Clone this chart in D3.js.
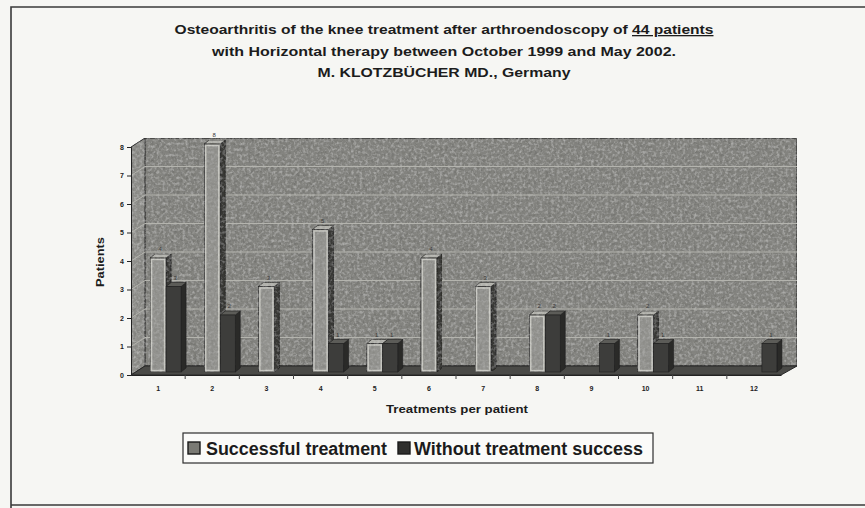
<!DOCTYPE html>
<html><head><meta charset="utf-8">
<script src="https://cdn.jsdelivr.net/npm/d3@7"></script>
<style>
html,body{margin:0;padding:0;background:#f6f6f3;}
svg{display:block;font-family:"Liberation Sans",Arial,sans-serif;}
</style></head>
<body>
<svg id="chart" width="865" height="508"></svg>
<script>
// ---- data ----
const categories = ["1","2","3","4","5","6","7","8","9","10","11","12"];
const successful = [4,8,3,5,1,4,3,2,0,2,0,0];
const withoutSuccess = [3,2,0,1,1,0,0,2,1,1,0,1];
const yTicks = [0,1,2,3,4,5,6,7,8];
const seriesNames = ["Successful treatment","Without treatment success"];
const titleLines = [
  ["Osteoarthritis of the knee treatment after arthroendoscopy of ", "44 patients"],
  ["with Horizontal therapy between October 1999 and May 2002.", ""],
  ["M. KLOTZBÜCHER MD., Germany", ""]
];
const xTitle = "Treatments per patient";
const yTitle = "Patients";

// ---- layout ----
const svg = d3.select("#chart");
const W = 865, H = 508;
const x = d3.scaleBand().domain(categories).range([131, 781]).padding(0);
const y = d3.scaleLinear().domain([0, 8]).range([375, 147]);
const depth = {dx: 14, dy: -9};      // wall depth
const barOff = {dx: 3, dy: -3};      // bar placement inside depth
const barD = {dx: 5, dy: -4};        // bar own depth

// subtle noise filter for photo grain
const defs = svg.append("defs");
function grain(id, freq, a){
  const f = defs.append("filter").attr("id",id).attr("x",0).attr("y",0).attr("width","100%").attr("height","100%");
  f.append("feTurbulence").attr("type","fractalNoise").attr("baseFrequency",freq).attr("numOctaves",2).attr("seed",3).attr("result","n");
  f.append("feColorMatrix").attr("in","n").attr("type","matrix")
   .attr("values",`0 0 0 0 0  0 0 0 0 0  0 0 0 0 0  ${a} 0 0 0 ${-a*0.45}`).attr("result","na");
  f.append("feComposite").attr("in","na").attr("in2","SourceGraphic").attr("operator","in").attr("result","nm");
  f.append("feTurbulence").attr("type","fractalNoise").attr("baseFrequency",freq).attr("numOctaves",2).attr("seed",11).attr("result","n2");
  f.append("feColorMatrix").attr("in","n2").attr("type","matrix")
   .attr("values",`0 0 0 0 1  0 0 0 0 1  0 0 0 0 1  0 ${a} 0 0 ${-a*0.45}`).attr("result","nl");
  f.append("feComposite").attr("in","nl").attr("in2","SourceGraphic").attr("operator","in").attr("result","nlm");
  f.append("feMerge").selectAll("feMergeNode").data(["SourceGraphic","nm","nlm"]).join("feMergeNode").attr("in",d=>d);
}
grain("grain", 0.35, 0.6);
grain("grainB", 0.35, 0.35);

// page frame
svg.append("rect").attr("width",W).attr("height",H).attr("fill","#f6f6f3");
svg.append("path").attr("d",`M${W},7 L11,7 L11,${H} M11,505 L${W},505`)
  .attr("fill","none").attr("stroke","#3a3a3a").attr("stroke-width",1.6);

// title
const tg = svg.append("g");
const titleW = [539, 464, 253];
titleLines.forEach((ln,i)=>{
  const t = tg.append("text").attr("x",444).attr("y",34 + i*21.5)
    .attr("text-anchor","middle").attr("font-size",13).attr("font-weight","bold").attr("fill","#1c1c1c")
    .attr("textLength",titleW[i]).attr("lengthAdjust","spacingAndGlyphs");
  t.append("tspan").text(ln[0]);
  if (ln[1]) t.append("tspan").attr("text-decoration","underline").text(ln[1]);
});

// ---- 3D plot area ----
const x0 = x.range()[0], x1 = x.range()[1];
const yb0 = y(0), yb8 = y(8);
const g = svg.append("g");
// back wall
g.append("rect").attr("x",x0+depth.dx).attr("y",yb8+depth.dy)
  .attr("width",(x1+depth.dx+2)-(x0+depth.dx)).attr("height",yb0-yb8)
  .attr("fill","#83837f").attr("stroke","#2a2a2a").attr("stroke-width",1.2).attr("filter","url(#grain)");
// left side wall
g.append("path").attr("d",`M${x0},${yb0} L${x0},${yb8} L${x0+depth.dx},${yb8+depth.dy} L${x0+depth.dx},${yb0+depth.dy} Z`)
  .attr("fill","#8e8e8a").attr("stroke","#2a2a2a").attr("stroke-width",1).attr("filter","url(#grain)");
// gridlines
yTicks.slice(1,-1).forEach(v=>{
  g.append("line").attr("x1",x0+depth.dx).attr("x2",x1+depth.dx+2)
    .attr("y1",y(v)+depth.dy).attr("y2",y(v)+depth.dy).attr("stroke","#b4b4ae").attr("stroke-width",1);
  g.append("line").attr("x1",x0).attr("x2",x0+depth.dx)
    .attr("y1",y(v)).attr("y2",y(v)+depth.dy).attr("stroke","#b4b4ae").attr("stroke-width",1);
});
// floor
g.append("path").attr("d",`M${x0},${yb0} L${x0+depth.dx},${yb0+depth.dy} L${x1+depth.dx+2},${yb0+depth.dy} L${x1},${yb0} Z`)
  .attr("fill","#4a4a47").attr("stroke","#262626").attr("stroke-width",1);

// bars
function box(gg, bx, v, w, front, side, top, edge){
  const yt = y(v) + barOff.dy, ybt = y(0) + barOff.dy;
  const xl = bx + barOff.dx, xr = xl + w;
  gg.append("path").attr("d",`M${xr},${ybt} L${xr},${yt} L${xr+barD.dx},${yt+barD.dy} L${xr+barD.dx},${ybt+barD.dy} Z`)
    .attr("fill",side).attr("stroke","#1e1e1e").attr("stroke-width",0.6);
  gg.append("path").attr("d",`M${xl},${yt} L${xr},${yt} L${xr+barD.dx},${yt+barD.dy} L${xl+barD.dx},${yt+barD.dy} Z`)
    .attr("fill",top).attr("stroke","#1e1e1e").attr("stroke-width",0.6);
  gg.append("rect").attr("x",xl).attr("y",yt).attr("width",w).attr("height",ybt-yt)
    .attr("fill",front).attr("stroke","#1e1e1e").attr("stroke-width",0.6);
  if (edge) gg.append("rect").attr("x",xl+1.5).attr("y",yt+1.5).attr("width",w-3).attr("height",Math.max(0,ybt-yt-3))
    .attr("fill","none").attr("stroke",edge).attr("stroke-width",1.4);
}
const bars = g.append("g");
const labels = g.append("g");
categories.forEach((c,i)=>{
  const cx = x(c) + x.bandwidth()/2;
  if (successful[i] > 0) {
    const sb = bars.append("g").attr("filter","url(#grainB)");
    box(sb, cx-11, successful[i], 16, "#92928e", "#3a3a38", "#b4b4ae", "#c9c9c3");
    labels.append("text").attr("x",cx-11+barOff.dx+10).attr("y",y(successful[i])-10)
      .attr("text-anchor","middle").attr("font-size",6).attr("fill","#3a3a3a").text(successful[i]);
  }
  if (withoutSuccess[i] > 0) {
    box(bars.append("g"), cx+5, withoutSuccess[i], 15, "#3d3d3b", "#2a2a28", "#5c5c58", null);
    labels.append("text").attr("x",cx+5+barOff.dx+9).attr("y",y(withoutSuccess[i])-10)
      .attr("text-anchor","middle").attr("font-size",6).attr("fill","#3a3a3a").text(withoutSuccess[i]);
  }
});

// axes
const yAxis = d3.axisLeft(y).tickValues(yTicks).tickSize(4).tickPadding(3).tickFormat(d3.format("d"));
const ya = svg.append("g").attr("transform",`translate(${x0},0)`).call(yAxis);
ya.select(".domain").attr("stroke","#222");
ya.selectAll("line").attr("stroke","#222");
ya.selectAll("text").attr("font-size",7).attr("font-weight","bold").attr("fill","#222")
  .attr("font-family","Liberation Sans, Arial, sans-serif");

const xAxis = d3.axisBottom(x).tickSize(0).tickPadding(11);
const xa = svg.append("g").attr("transform",`translate(0,${y(0)})`).call(xAxis);
xa.select(".domain").attr("stroke","#222");
xa.selectAll("text").attr("font-size",7).attr("font-weight","bold").attr("fill","#222")
  .attr("font-family","Liberation Sans, Arial, sans-serif");
// category separator ticks
xa.selectAll("line.sep").data(categories.slice(1)).join("line").attr("class","sep")
  .attr("x1",d=>x(d)).attr("x2",d=>x(d)).attr("y1",0).attr("y2",4).attr("stroke","#444");

// axis titles
svg.append("text").attr("x",457).attr("y",413).attr("text-anchor","middle")
  .attr("font-size",11).attr("font-weight","bold").attr("fill","#1c1c1c")
  .attr("textLength",142).attr("lengthAdjust","spacingAndGlyphs").text(xTitle);
svg.append("text").attr("transform","translate(104,262) rotate(-90)").attr("text-anchor","middle")
  .attr("font-size",11).attr("font-weight","bold").attr("fill","#1c1c1c")
  .attr("textLength",50).attr("lengthAdjust","spacingAndGlyphs").text(yTitle);

// legend
const lg = svg.append("g");
lg.append("rect").attr("x",183).attr("y",433).attr("width",470).attr("height",30)
  .attr("fill","#fbfbf9").attr("stroke","#2e2e2e").attr("stroke-width",1.2);
const legendItems = [
  {name: seriesNames[0], sx: 188, tx: 206, fill: "#7a7a74", tw: 181},
  {name: seriesNames[1], sx: 398, tx: 414, fill: "#2f2f2d", tw: 229}
];
legendItems.forEach(it=>{
  lg.append("rect").attr("x",it.sx).attr("y",442).attr("width",12).attr("height",12)
    .attr("fill",it.fill).attr("stroke","#1a1a1a").attr("stroke-width",1.4);
  lg.append("text").attr("x",it.tx).attr("y",455).attr("font-size",17.5).attr("font-weight","bold")
    .attr("fill","#1c1c1c").attr("textLength",it.tw).attr("lengthAdjust","spacingAndGlyphs").text(it.name);
});
</script>
</body></html>
